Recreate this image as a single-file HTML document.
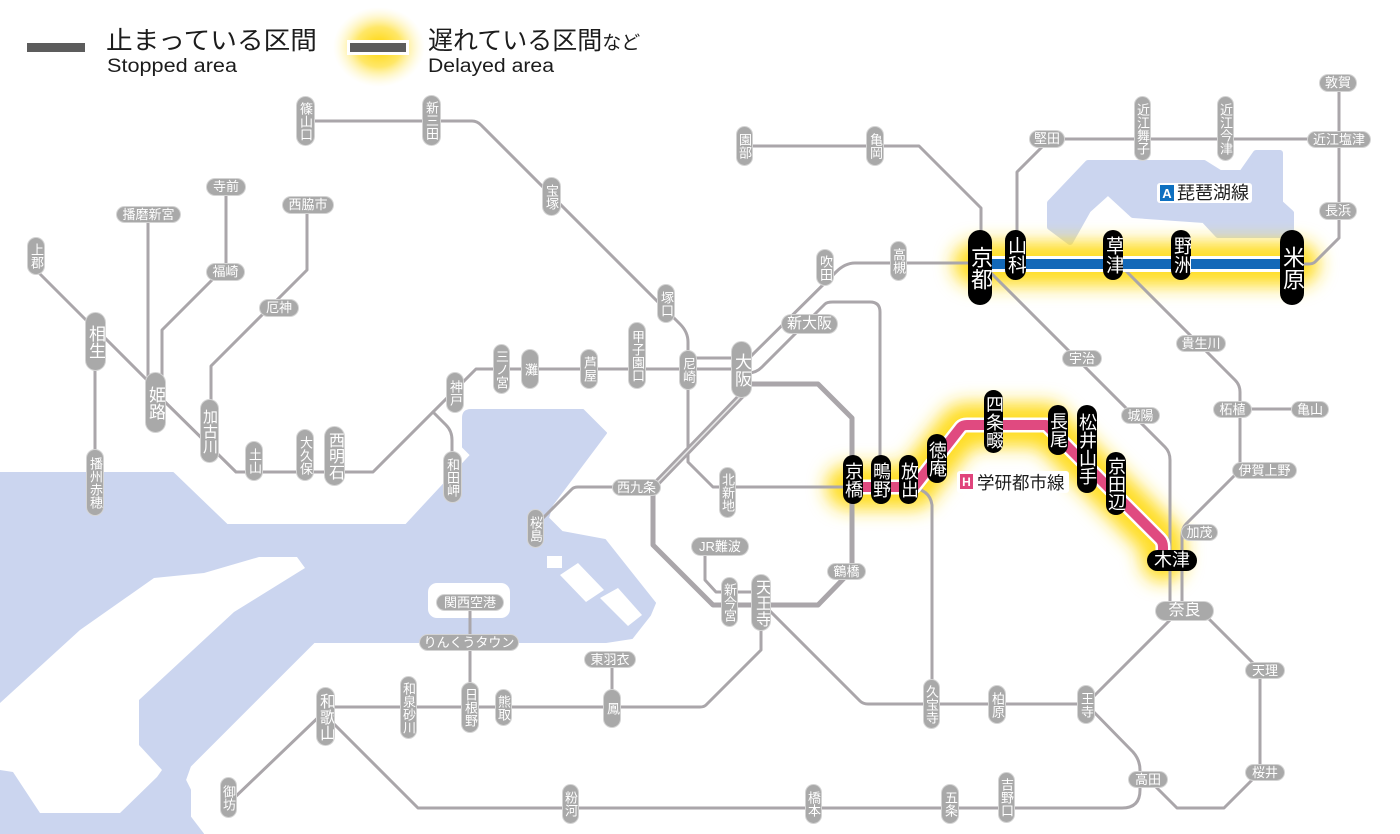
<!DOCTYPE html>
<html><head><meta charset="utf-8">
<style>
html,body{margin:0;padding:0;background:#fff;}
#w{position:relative;width:1400px;height:834px;overflow:hidden;background:#fff;font-family:"Liberation Sans","Noto Sans CJK JP",sans-serif;}
svg{position:absolute;left:0;top:0;}
.s{position:absolute;box-sizing:border-box;background:#a9a9a9;color:#fff;text-align:center;white-space:nowrap;box-shadow:0 0 0 1px #d4d4d4;font-size:13px;overflow:hidden;border-radius:99px;}
.v{writing-mode:vertical-rl;}
.b{background:#000;box-shadow:none;color:#fff;font-size:18px;}
</style></head><body><div id="w">
<svg width="1400" height="834" viewBox="0 0 1400 834" font-family="Liberation Sans, Noto Sans CJK JP, sans-serif">
<defs>
<filter id="bl" filterUnits="userSpaceOnUse" x="0" y="0" width="1400" height="834"><feGaussianBlur stdDeviation="9"/></filter>
<radialGradient id="rg"><stop offset="0" stop-color="#ffd400"/><stop offset="0.5" stop-color="#ffe34d" stop-opacity="0.85"/><stop offset="1" stop-color="#fff6c0" stop-opacity="0"/></radialGradient>
</defs>
<g fill="#cbd5ef" stroke="#cbd5ef" stroke-width="2" stroke-linejoin="round">
<path d="M0,473 L173,473 L227,525 L406,525 L471,455 L463,447 L463,418 Q463,410 471,410 L583,410 L606,433 L552,505 L548,518 L562,532 L605,540 L655,603 L650,615 L632,638 L606,642 L314,642 L190,766 L185,780 L190,790 L190,817 L203,834 L0,834 Z"/>
<path d="M1088,163 L1204,163 L1220,173 L1242,173 L1256,153 L1280,153 L1280,203 L1291,213 L1291,235 L1218,235 L1204,220 L1133,215 L1108,192 L1088,210 L1070,242 L1050,227 L1050,203 Z" stroke-width="6"/>
</g>
<g fill="#fff">
<path d="M259,557 L297,557 L305,568 L234,612 L139,700 L139,745 L162,770 L157,777 L120,813 L40,813 L13,772 L0,770 L0,703 L80,630 L154,578 L204,573 Z"/>
<rect x="428" y="583" width="82" height="35" rx="9"/>
<path d="M547,556 h15 v12 h-15 Z"/>
<path d="M560,575 L578,563 L604,590 L586,602 Z"/>
<path d="M600,598 L618,588 L642,615 L628,626 Z"/>
</g>
<!-- glows -->
<ellipse cx="379" cy="47" rx="46" ry="40" fill="url(#rg)"/>
<g fill="none" stroke="#ffdd22" stroke-width="44" stroke-linecap="round" stroke-linejoin="round" filter="url(#bl)">
<path d="M975,264 H1297"/>
<path d="M848,487 H914 L961,427 Q963,425 967,425 H1046 L1160,539 Q1163,542 1163,547 V560"/>
</g>
<!-- gray lines -->
<g fill="none" stroke="#aaa6aa" stroke-width="3" stroke-linejoin="round" stroke-linecap="round">
<path d="M305,121 H472 Q477,121 481,125 L680,324 Q688,332 688,342 V462 L713,487 H852"/>
<path d="M688,358 H741"/>
<path d="M36,270 L92,326"/>
<path d="M98,331 L158,391"/>
<path d="M160,397 L236,472 H373 L476,369 H741"/>
<path d="M95,342 V482"/>
<path d="M148,215 V395"/>
<path d="M226,187 V266 L162,330 V395"/>
<path d="M307,205 V270 L211,366 V431"/>
<path d="M433,412 L446,425 Q452,431 452,440 V478"/>
<path d="M745,146 H919 L981,208 V265"/>
<path d="M745,362 L836,272 Q845,263 855,263 H980"/>
<path d="M748,373 Q756,373 762,367 L825,304 Q827,302 833,302 H870 Q880,302 880,312 V480"/>
<path d="M705,547 V580 L716,592 H762"/>
<path d="M762,603 L860,701 Q863,704 868,704 H1086"/>
<path d="M761,600 V650 L706,705 Q704,707 700,707 H326"/>
<path d="M612,658 V707"/>
<path d="M470,602 V707"/>
<path d="M326,710 L232,800"/>
<path d="M326,716 L418,808 H1122 Q1140,808 1140,790 V779"/>
<path d="M1086,704 L1133,752 Q1140,760 1140,770 V779"/>
<path d="M1150,781 L1177,808 H1224 L1260,772"/>
<path d="M1260,671 V773"/>
<path d="M1090,700 L1180,610"/>
<path d="M1198,608 L1262,672"/>
<path d="M980,262 L1165,447 Q1170,452 1170,460 V610"/>
<path d="M1113,258 L1235,380 Q1240,385 1240,392 V470"/>
<path d="M1233,409 H1310"/>
<path d="M1240,470 L1186,524 Q1182,528 1182,536 V610"/>
<path d="M1047,139 H1339"/>
<path d="M1050,139 L1017,172 V255"/>
<path d="M1339,83 V238 L1315,262 Q1313,264 1308,264 H1292"/>
<path d="M909,487 Q930,489 932,505 V704"/>
<path d="M536,525 L572,489 Q574,487 578,487 H637"/>
</g>
<g fill="none" stroke="#aaa6aa" stroke-linejoin="round" stroke-linecap="round">
<path d="M741,384 H818 L852,418 V570 L818,605 H713 L653,545 V487" stroke-width="5"/>
<path d="M653,487 L741,396" stroke-width="7"/>
<path d="M653,487 L741,396" stroke-width="1.5" stroke="#e8e8e8"/>
</g>
<!-- colored lines -->
<path d="M980,264 H1292" stroke="#fff" stroke-width="16" fill="none"/>
<path d="M980,264 H1292" stroke="#1368b8" stroke-width="10" fill="none"/>
<g fill="none" stroke-linejoin="round">
<path d="M852,487 H914 L961,427 Q963,425 967,425 H1046 L1160,539 Q1163,542 1163,547 V560" stroke="#fff" stroke-width="15"/>
<path d="M852,487 H914 L961,427 Q963,425 967,425 H1046 L1160,539 Q1163,542 1163,547 V560" stroke="#e04a80" stroke-width="10"/>
</g>
<!-- legend -->
<rect x="27" y="43" width="58" height="9" fill="#5c5c5c"/>
<rect x="347" y="40" width="62" height="15" fill="#fff"/>
<rect x="350" y="43" width="56" height="9" fill="#5c5c5c"/>
<text x="106" y="49" font-size="25" fill="#1c1c1c" textLength="211" lengthAdjust="spacingAndGlyphs">止まっている区間</text>
<text x="107" y="72" font-size="19" fill="#1c1c1c" textLength="130" lengthAdjust="spacingAndGlyphs">Stopped area</text>
<text x="428" y="49" font-size="25" fill="#1c1c1c">遅れている区間<tspan font-size="19">など</tspan></text>
<text x="428" y="72" font-size="19" fill="#1c1c1c" textLength="126" lengthAdjust="spacingAndGlyphs">Delayed area</text>
<!-- line labels -->
<rect x="1157" y="183" width="95" height="20" rx="3" fill="#fff"/>
<rect x="1160" y="185" width="14" height="16" fill="#0d6fc0"/>
<text x="1167" y="198" font-size="13" font-weight="bold" fill="#fff" text-anchor="middle">A</text>
<text x="1177" y="199" font-size="18" fill="#1c1c1c">琵琶湖線</text>
<rect x="957" y="471" width="112" height="22" rx="3" fill="#fff"/>
<rect x="960" y="474" width="13" height="15" fill="#e0447c"/>
<text x="966.5" y="486" font-size="12" font-weight="bold" fill="#fff" text-anchor="middle">H</text>
<text x="977" y="489" font-size="17.5" fill="#1c1c1c">学研都市線</text>
</svg>

<!-- gray vertical stations -->
<div class="s v" style="left:297px;top:97px;width:17px;height:48px;line-height:17px">篠山口</div>
<div class="s v" style="left:423px;top:96px;width:17px;height:49px;line-height:17px">新三田</div>
<div class="s v" style="left:543px;top:178px;width:17px;height:37px;line-height:17px">宝塚</div>
<div class="s v" style="left:658px;top:285px;width:16px;height:37px;line-height:16px">塚口</div>
<div class="s v" style="left:28px;top:238px;width:16px;height:36px;line-height:16px">上郡</div>
<div class="s v" style="left:86px;top:313px;width:19px;height:57px;line-height:19px;font-size:17px">相生</div>
<div class="s v" style="left:146px;top:373px;width:19px;height:59px;line-height:19px;font-size:17px">姫路</div>
<div class="s v" style="left:201px;top:400px;width:17px;height:62px;line-height:17px;font-size:15px">加古川</div>
<div class="s v" style="left:246px;top:442px;width:16px;height:38px;line-height:16px">土山</div>
<div class="s v" style="left:297px;top:430px;width:16px;height:50px;line-height:16px">大久保</div>
<div class="s v" style="left:325px;top:427px;width:19px;height:58px;line-height:19px;font-size:16px">西明石</div>
<div class="s v" style="left:87px;top:450px;width:16px;height:65px;line-height:16px">播州赤穂</div>
<div class="s v" style="left:447px;top:373px;width:16px;height:39px;line-height:16px">神戸</div>
<div class="s v" style="left:444px;top:452px;width:17px;height:50px;line-height:17px">和田岬</div>
<div class="s v" style="left:494px;top:345px;width:15px;height:48px;line-height:15px">三ノ宮</div>
<div class="s v" style="left:522px;top:350px;width:16px;height:38px;line-height:16px">灘</div>
<div class="s v" style="left:581px;top:350px;width:16px;height:38px;line-height:16px">芦屋</div>
<div class="s v" style="left:629px;top:323px;width:16px;height:65px;line-height:16px">甲子園口</div>
<div class="s v" style="left:680px;top:351px;width:16px;height:38px;line-height:16px">尼崎</div>
<div class="s v" style="left:732px;top:342px;width:19px;height:55px;line-height:19px;font-size:17px">大阪</div>
<div class="s v" style="left:817px;top:250px;width:16px;height:35px;line-height:16px">吹田</div>
<div class="s v" style="left:891px;top:242px;width:15px;height:38px;line-height:15px">高槻</div>
<div class="s v" style="left:737px;top:127px;width:15px;height:38px;line-height:15px">園部</div>
<div class="s v" style="left:867px;top:127px;width:16px;height:38px;line-height:16px">亀岡</div>
<div class="s v" style="left:1135px;top:97px;width:15px;height:63px;line-height:15px">近江舞子</div>
<div class="s v" style="left:1218px;top:97px;width:15px;height:63px;line-height:15px">近江今津</div>
<div class="s v" style="left:720px;top:468px;width:15px;height:49px;line-height:15px">北新地</div>
<div class="s v" style="left:528px;top:510px;width:15px;height:37px;line-height:15px">桜島</div>
<div class="s v" style="left:722px;top:578px;width:15px;height:48px;line-height:15px">新今宮</div>
<div class="s v" style="left:752px;top:575px;width:18px;height:55px;line-height:18px;font-size:16px">天王寺</div>
<div class="s v" style="left:924px;top:680px;width:15px;height:48px;line-height:15px">久宝寺</div>
<div class="s v" style="left:989px;top:686px;width:16px;height:37px;line-height:16px">柏原</div>
<div class="s v" style="left:1078px;top:686px;width:16px;height:37px;line-height:16px">王寺</div>
<div class="s v" style="left:999px;top:773px;width:15px;height:49px;line-height:15px">吉野口</div>
<div class="s v" style="left:942px;top:785px;width:16px;height:38px;line-height:16px">五条</div>
<div class="s v" style="left:806px;top:785px;width:15px;height:38px;line-height:15px">橋本</div>
<div class="s v" style="left:563px;top:785px;width:15px;height:38px;line-height:15px">粉河</div>
<div class="s v" style="left:221px;top:778px;width:15px;height:39px;line-height:15px">御坊</div>
<div class="s v" style="left:317px;top:688px;width:17px;height:57px;line-height:17px;font-size:16px">和歌山</div>
<div class="s v" style="left:401px;top:677px;width:15px;height:61px;line-height:15px">和泉砂川</div>
<div class="s v" style="left:462px;top:683px;width:16px;height:49px;line-height:16px">日根野</div>
<div class="s v" style="left:496px;top:690px;width:15px;height:35px;line-height:15px">熊取</div>
<div class="s v" style="left:604px;top:690px;width:16px;height:37px;line-height:16px">鳳</div>

<!-- gray horizontal stations -->
<div class="s" style="left:117px;top:207px;width:63px;height:15px;line-height:15px">播磨新宮</div>
<div class="s" style="left:207px;top:179px;width:38px;height:16px;line-height:16px">寺前</div>
<div class="s" style="left:207px;top:264px;width:37px;height:16px;line-height:16px">福崎</div>
<div class="s" style="left:283px;top:197px;width:50px;height:16px;line-height:16px">西脇市</div>
<div class="s" style="left:260px;top:300px;width:38px;height:16px;line-height:16px">厄神</div>
<div class="s" style="left:782px;top:315px;width:55px;height:18px;line-height:18px;font-size:15px">新大阪</div>
<div class="s" style="left:1030px;top:131px;width:34px;height:16px;line-height:16px">堅田</div>
<div class="s" style="left:1308px;top:132px;width:62px;height:15px;line-height:15px">近江塩津</div>
<div class="s" style="left:1320px;top:75px;width:36px;height:16px;line-height:16px">敦賀</div>
<div class="s" style="left:1320px;top:203px;width:36px;height:16px;line-height:16px">長浜</div>
<div class="s" style="left:1177px;top:336px;width:48px;height:15px;line-height:15px">貴生川</div>
<div class="s" style="left:1063px;top:351px;width:38px;height:15px;line-height:15px">宇治</div>
<div class="s" style="left:1122px;top:408px;width:37px;height:15px;line-height:15px">城陽</div>
<div class="s" style="left:1214px;top:402px;width:37px;height:15px;line-height:15px">柘植</div>
<div class="s" style="left:1292px;top:402px;width:36px;height:15px;line-height:15px">亀山</div>
<div class="s" style="left:1233px;top:463px;width:63px;height:15px;line-height:15px">伊賀上野</div>
<div class="s" style="left:1182px;top:525px;width:35px;height:15px;line-height:15px">加茂</div>
<div class="s" style="left:1156px;top:602px;width:57px;height:18px;line-height:18px;font-size:16px">奈良</div>
<div class="s" style="left:1246px;top:663px;width:38px;height:15px;line-height:15px">天理</div>
<div class="s" style="left:1246px;top:765px;width:38px;height:15px;line-height:15px">桜井</div>
<div class="s" style="left:1129px;top:772px;width:38px;height:15px;line-height:15px">高田</div>
<div class="s" style="left:828px;top:564px;width:37px;height:15px;line-height:15px">鶴橋</div>
<div class="s" style="left:613px;top:480px;width:47px;height:15px;line-height:15px">西九条</div>
<div class="s" style="left:692px;top:538px;width:56px;height:17px;line-height:17px">JR難波</div>
<div class="s" style="left:585px;top:652px;width:50px;height:15px;line-height:15px">東羽衣</div>
<div class="s" style="left:420px;top:635px;width:98px;height:15px;line-height:15px">りんくうタウン</div>
<div class="s" style="left:437px;top:595px;width:66px;height:15px;line-height:15px">関西空港</div>

<!-- black stations -->
<div class="s v b" style="left:968px;top:230px;width:24px;height:75px;line-height:24px;font-size:22px">京都</div>
<div class="s v b" style="left:1005px;top:230px;width:21px;height:50px;line-height:21px;font-size:19px">山科</div>
<div class="s v b" style="left:1103px;top:230px;width:20px;height:50px;line-height:20px;font-size:19px">草津</div>
<div class="s v b" style="left:1171px;top:230px;width:20px;height:50px;line-height:20px;font-size:19px">野洲</div>
<div class="s v b" style="left:1280px;top:230px;width:24px;height:75px;line-height:24px;font-size:22px">米原</div>
<div class="s v b" style="left:843px;top:455px;width:20px;height:49px;line-height:20px">京橋</div>
<div class="s v b" style="left:871px;top:455px;width:20px;height:49px;line-height:20px">鴫野</div>
<div class="s v b" style="left:899px;top:455px;width:19px;height:49px;line-height:19px">放出</div>
<div class="s v b" style="left:927px;top:434px;width:20px;height:49px;line-height:20px">徳庵</div>
<div class="s v b" style="left:984px;top:390px;width:19px;height:63px;line-height:19px">四条畷</div>
<div class="s v b" style="left:1048px;top:405px;width:20px;height:50px;line-height:20px">長尾</div>
<div class="s v b" style="left:1077px;top:405px;width:20px;height:88px;line-height:20px">松井山手</div>
<div class="s v b" style="left:1106px;top:452px;width:20px;height:63px;line-height:20px">京田辺</div>
<div class="s b" style="left:1147px;top:550px;width:50px;height:21px;line-height:21px">木津</div>
</div></body></html>
